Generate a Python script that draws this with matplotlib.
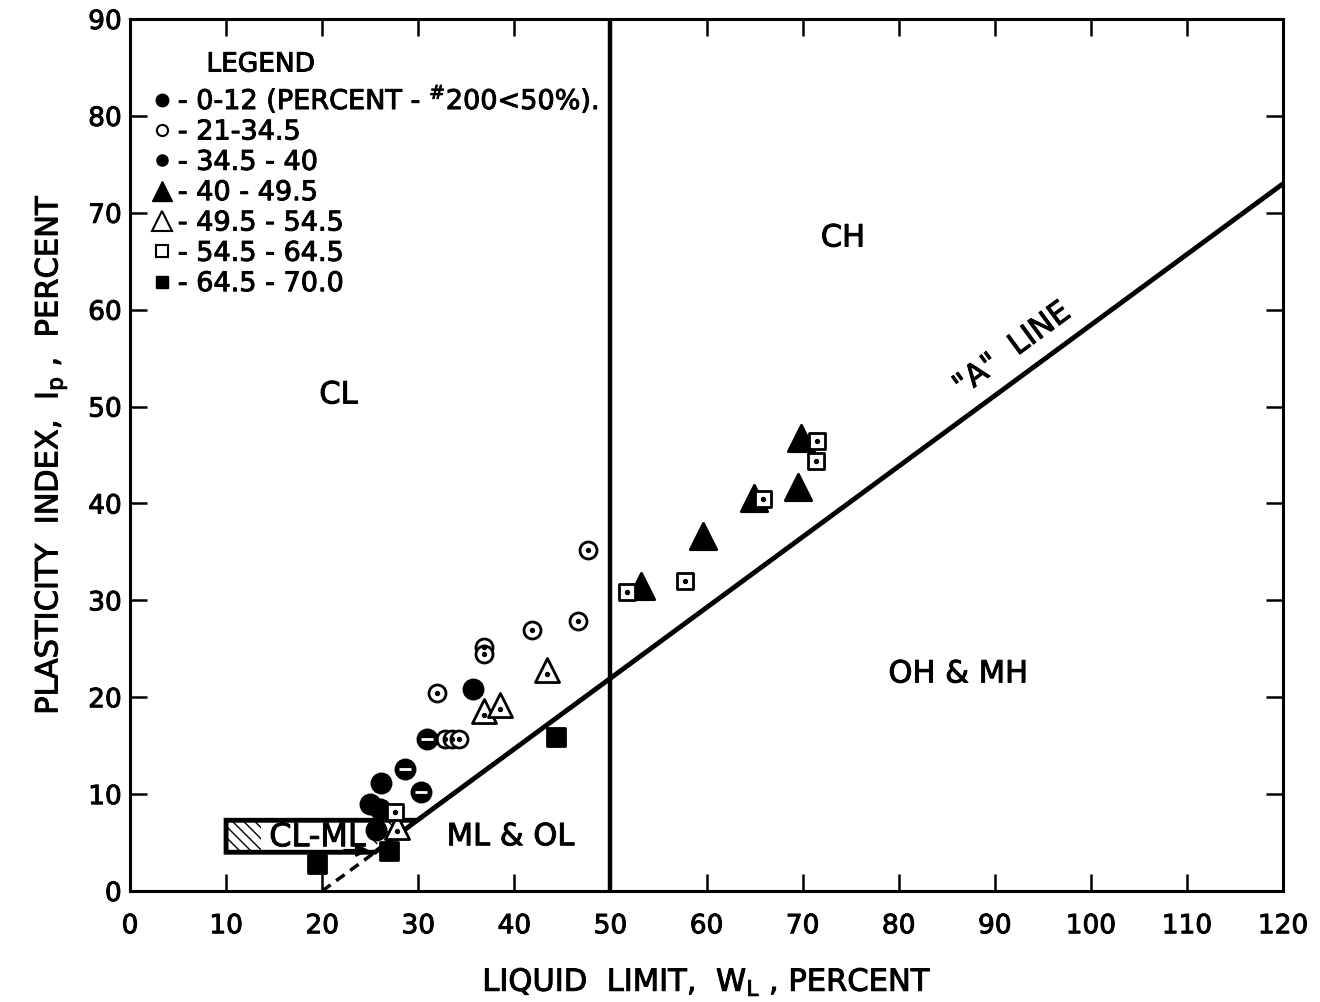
import matplotlib
matplotlib.use("Agg")
import matplotlib.pyplot as plt
from matplotlib.lines import Line2D
from matplotlib.patches import Polygon
from matplotlib.text import Text
import matplotlib.patheffects as pe

# ---------------- data ----------------
# 0-12 percent (filled circles)
c0_x = [35.7, 26.1, 25.0, 26.0, 25.6]
c0_y = [20.9, 11.1, 9.0, 8.5, 6.3]
# 21-34.5 (open circles with centre dot)
c1_x = [47.7, 46.6, 41.8, 36.8, 36.8, 32.0, 32.8, 33.5, 34.2]
c1_y = [35.2, 27.9, 26.9, 25.2, 24.5, 20.4, 15.7, 15.7, 15.7]
# 34.5-40 (filled circles with white bar)
c2_x = [30.9, 28.6, 30.3]
c2_y = [15.7, 12.6, 10.2]
# 40-49.5 (filled triangles)
c3_x = [53.2, 59.6, 64.9, 69.5, 69.8]
c3_y = [31.5, 36.6, 40.6, 41.7, 46.8]
# 49.5-54.5 (open triangles with dot)
c4_x = [43.4, 36.8, 38.5, 27.8]
c4_y = [22.8, 18.6, 19.2, 6.6]
# 54.5-64.5 (open squares with dot)
c5_x = [27.6, 51.7, 57.8, 65.9, 71.5, 71.4]
c5_y = [8.2, 30.9, 32.0, 40.5, 46.4, 44.4]
# 64.5-70.0 (filled squares)
c6_x = [44.3, 19.5, 27.0]
c6_y = [15.9, 2.8, 4.1]

legend_labels = [
    r"- 0-12 (PERCENT - $^{\#}$200<50%).",
    "- 21-34.5",
    "- 34.5 - 40",
    "- 40 - 49.5",
    "- 49.5 - 54.5",
    "- 54.5 - 64.5",
    "- 64.5 - 70.0",
]

a_line_x = [29.9, 120.0]
a_line_y = [7.3, 73.0]
a_ext_x = [20.0, 25.5]
a_ext_y = [0.0, 4.0]
clml_x = [10.0, 25.5, 29.9, 10.0]
clml_y = [4.0, 4.0, 7.3, 7.3]
xticks = list(range(0, 121, 10))
yticks = list(range(0, 91, 10))

# ---------------- figure ----------------
plt.rcParams['font.family'] = ['DejaVu Sans']
fig = plt.figure(figsize=(13.2, 10.03), dpi=100)
ax = fig.add_axes([130/1320, (1003-892)/1003, (1283-130)/1320, (892-20)/1003])
ax.set_xlim(0, 120)
ax.set_ylim(0, 90)

for s in ax.spines.values():
    s.set_linewidth(2.2)

ax.set_xticks(xticks)
ax.set_yticks(yticks)
ax.tick_params(direction='in', length=12, width=1.8, top=True, right=True,
               labelsize=19)
ax.tick_params(axis='x', pad=16)
ax.tick_params(axis='y', pad=6)

# A-line and U-boundary
ax.plot(a_line_x, a_line_y, color='black', lw=3.5, solid_capstyle='butt', zorder=3)
ax.plot(a_ext_x, a_ext_y, color='black', lw=2.5, ls=(0, (3, 2)), zorder=3)
ax.axvline(50, color='black', lw=3.2, zorder=3)

# CL-ML zone
poly = Polygon(list(zip(clml_x, clml_y)), closed=True, facecolor='white',
               edgecolor='black', lw=3.5, zorder=4)
ax.add_patch(poly)
hatch1 = Polygon([(10, 4), (13.6, 4), (13.6, 7.3), (10, 7.3)], closed=True,
                 facecolor='none', edgecolor='black', hatch='\\\\\\', lw=0, zorder=4)
ax.add_patch(hatch1)
hatch2 = Polygon([(24.8, 7.3), (28.0, 7.3), (25.5, 4.6), (24.8, 5.0)], closed=True,
                 facecolor='none', edgecolor='black', hatch='\\\\\\', lw=0, zorder=4)
ax.add_patch(hatch2)
ax.text(19.5, 5.5, "CL-ML", fontsize=23, ha='center', va='center', zorder=6)
ax.annotate("", xy=(25.2, 4.2), xytext=(22.0, 4.2),
            arrowprops=dict(arrowstyle='-|>', color='black', lw=2, mutation_scale=18),
            zorder=6)

# data marks
kw = dict(zorder=7, linewidths=2)
ax.scatter(c0_x, c0_y, s=190, marker='o', color='black', **kw)
ax.scatter(c1_x, c1_y, s=150, marker='o', facecolor='white', edgecolor='black', **kw)
ax.scatter(c1_x, c1_y, s=8, marker='o', color='black', zorder=8)
ax.scatter(c2_x, c2_y, s=190, marker='o', color='black', **kw)
ax.scatter(c2_x, c2_y, s=80, marker='_', color='white', linewidths=2, zorder=8)
ax.scatter(c3_x, c3_y, s=360, marker='^', color='black', **kw)
ax.scatter(c4_x, c4_y, s=300, marker='^', facecolor='white', edgecolor='black', **kw)
ax.scatter(c4_x, [v - 0.4 for v in c4_y], s=8, marker='o', color='black', zorder=8)
ax.scatter(c5_x, c5_y, s=130, marker='s', facecolor='white', edgecolor='black', **kw)
ax.scatter(c5_x, c5_y, s=8, marker='o', color='black', zorder=8)
ax.scatter(c6_x, c6_y, s=170, marker='s', color='black', **kw)

# region labels
ax.text(21.7, 51.2, "CL", fontsize=22, ha='center', va='center')
ax.text(74.2, 67.4, "CH", fontsize=22, ha='center', va='center')
ax.text(86.2, 22.4, "OH & MH", fontsize=22, ha='center', va='center')
ax.text(39.6, 5.6, "ML & OL", fontsize=22, ha='center', va='center')
ax.text(91.8, 55.9, '"A"  LINE', fontsize=22, ha='center', va='center', rotation=36.3,
        rotation_mode='anchor')

# legend
ax.text(13.6, 85.3, "LEGEND", fontsize=19, ha='center', va='center')
handles = [
    Line2D([], [], ls='none', marker='o', ms=9, color='black'),
    Line2D([], [], ls='none', marker='o', ms=8, mfc='white', mec='black', mew=1.5),
    Line2D([], [], ls='none', marker='o', ms=8, color='black'),
    Line2D([], [], ls='none', marker='^', ms=14, color='black'),
    Line2D([], [], ls='none', marker='^', ms=14, mfc='white', mec='black', mew=1.5),
    Line2D([], [], ls='none', marker='s', ms=8, mfc='white', mec='black', mew=1.5),
    Line2D([], [], ls='none', marker='s', ms=9, color='black'),
]
ax.legend(handles, legend_labels, loc='upper left', bbox_to_anchor=(0.018, 0.927),
          frameon=False, fontsize=19.5, handlelength=0.8, handletextpad=0.2,
          labelspacing=0.16, borderpad=0, borderaxespad=0)

ax.set_xlabel(r"LIQUID  LIMIT,  W$_\mathregular{L}$ , PERCENT", fontsize=22, labelpad=20)
ax.set_ylabel(r"PLASTICITY  INDEX,  I$_\mathregular{p}$ ,  PERCENT", fontsize=22, labelpad=14)

# heavier lettering like the stencil original
for t in fig.findobj(Text):
    t.set_path_effects([pe.withStroke(linewidth=0.7, foreground='black')])

fig.savefig("out.png", dpi=100, facecolor='white')
